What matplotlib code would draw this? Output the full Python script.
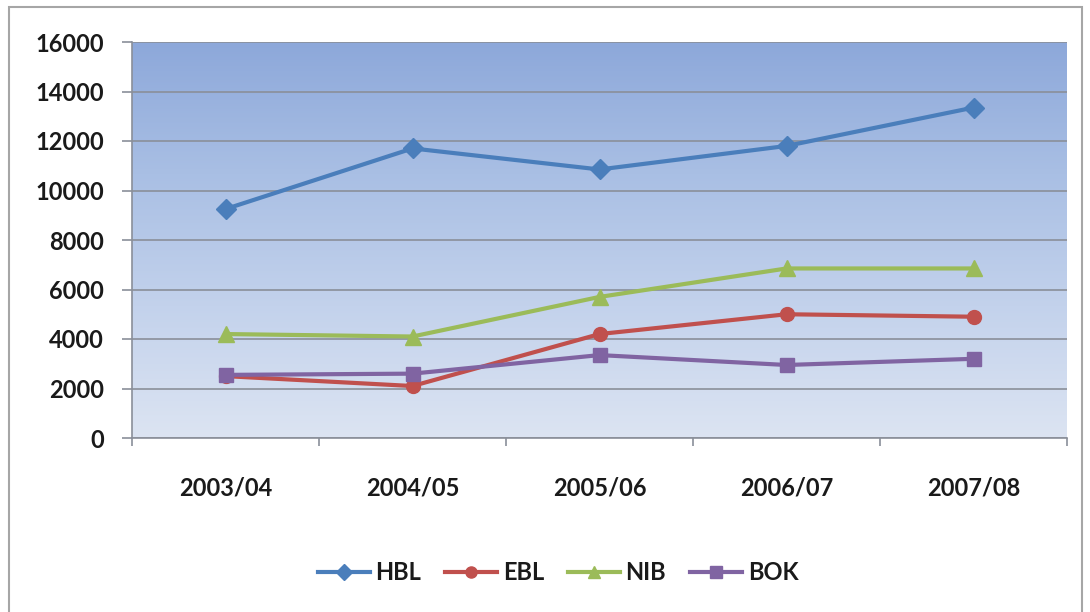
import numpy as np
import matplotlib
matplotlib.use("Agg")
import matplotlib.pyplot as plt
from matplotlib.colors import LinearSegmentedColormap
from matplotlib.lines import Line2D
from matplotlib.patches import Rectangle

# Data
years = ["2003/04", "2004/05", "2005/06", "2006/07", "2007/08"]
hbl = [9250, 11700, 10850, 11800, 13350]
ebl = [2500, 2100, 4200, 5000, 4900]
nib = [4200, 4100, 5700, 6850, 6850]
bok = [2550, 2600, 3350, 2950, 3200]
series_names = ["HBL", "EBL", "NIB", "BOK"]
y_ticks = [0, 2000, 4000, 6000, 8000, 10000, 12000, 14000, 16000]

colors = ["#4A7EBB", "#C0504D", "#9BBB59", "#8064A2"]
markers = ["D", "o", "^", "s"]
msizes = [10, 10, 11, 10]

plt.rcParams["font.family"] = ["Lato", "DejaVu Sans"]

fig = plt.figure(figsize=(10.9, 6.12), dpi=100)
fig.patch.set_facecolor("white")
ax = fig.add_axes([132 / 1090, 1 - 438 / 612, 935 / 1090, 396 / 612])

# gradient background of the plot area
grad_cmap = LinearSegmentedColormap.from_list(
    "bg", ["#DCE4F2", "#C3D2EC", "#A9BFE4", "#8DA8DA"])
grad = np.linspace(0, 1, 256).reshape(-1, 1)
ax.imshow(grad, cmap=grad_cmap, extent=[0, 1, 0, 1], transform=ax.transAxes,
          aspect="auto", origin="lower", zorder=0)

x = np.arange(len(years))
all_series = [hbl, ebl, nib, bok]
for vals, name, c, m, ms in zip(all_series, series_names, colors, markers, msizes):
    ax.plot(x, vals, color=c, lw=3.0, marker=m, markersize=ms,
            markeredgecolor=c, label=name, zorder=3)

ax.set_xlim(-0.5, len(years) - 0.5)
ax.set_ylim(0, 16000)

ax.set_yticks(y_ticks)
ax.set_yticklabels([str(v) for v in y_ticks])
ax.yaxis.grid(True, color="#8A8F99", lw=1.2, zorder=1)
ax.set_axisbelow(True)

ax.set_xticks(x)
ax.set_xticklabels(years)
ax.set_xticks(np.arange(-0.5, len(years)), minor=True)
ax.tick_params(axis="x", which="major", length=0, pad=28, labelsize=17)
ax.tick_params(axis="x", which="minor", length=6, width=1.2, color="#8A8F99")
ax.tick_params(axis="y", length=7, width=1.2, color="#8A8F99", pad=13, labelsize=17)
for lab in ax.get_xticklabels() + ax.get_yticklabels():
    lab.set_fontweight("bold")
    lab.set_color("#1a1a1a")

for side in ["top", "right"]:
    ax.spines[side].set_visible(False)
for side in ["left", "bottom"]:
    ax.spines[side].set_color("#8A8F99")
    ax.spines[side].set_linewidth(1.2)

handles = [Line2D([0], [0], color=c, lw=3.0, marker=m, markersize=ms - 2,
                  markeredgecolor=c)
           for c, m, ms in zip(colors, markers, msizes)]
leg = fig.legend(handles, series_names, loc="center", ncol=4,
                 bbox_to_anchor=(558 / 1090, 1 - 573 / 612), frameon=False,
                 handlelength=2.2, columnspacing=1.0, handletextpad=0.25,
                 prop={"size": 17, "weight": "bold"})
for t in leg.get_texts():
    t.set_color("#1a1a1a")

# outer border of the chart
fig.patches.append(Rectangle((9 / 1090, -0.01), 1073 / 1090, 1 - 7 / 612 + 0.01,
                             transform=fig.transFigure, fill=False,
                             edgecolor="#A6A6A6", lw=1.5))

fig.savefig("out.png", dpi=100)
